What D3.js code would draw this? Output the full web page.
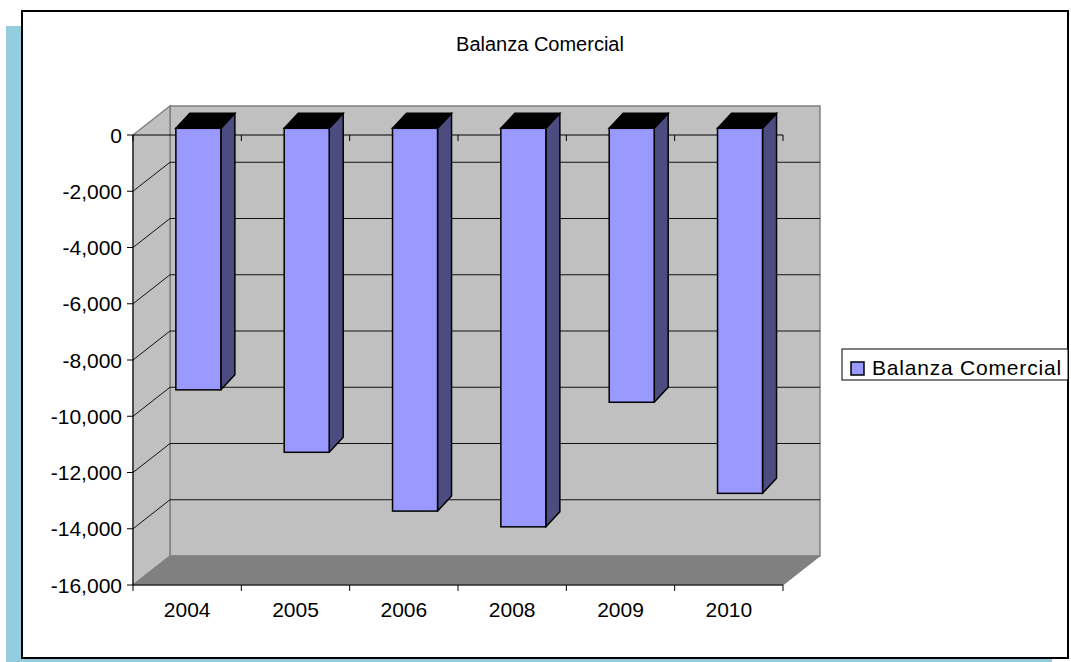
<!DOCTYPE html>
<html>
<head>
<meta charset="utf-8">
<script src="https://cdn.jsdelivr.net/npm/d3@7"></script>
<style>
  body { margin: 0; background: #fff; }
  svg text { font-family: "Liberation Sans", Arial, sans-serif; fill: #000; }
</style>
</head>
<body>
<div id="graph"></div>
<script>
const years = ['2004', '2005', '2006', '2008', '2009', '2010'];
const balanza = [-9300, -11520, -13610, -14170, -9740, -12980];
const valueTicks = [0, -2000, -4000, -6000, -8000, -10000, -12000, -14000, -16000];
const chartTitle = 'Balanza Comercial';
const seriesName = 'Balanza Comercial';

const width = 1071;
const height = 662;

// depth of the 3d box and of each bar
const wallDx = 37, wallDy = -29;
const barDx = 14, barDy = -15;

const svg = d3.select('#graph')
    .append('svg')
    .attr('width', width)
    .attr('height', height)

// shadow + frame
svg.append('rect')
    .attr('x', 6).attr('y', 26)
    .attr('width', 1046).attr('height', 660)
    .attr('fill', '#93cddd')
svg.append('rect')
    .attr('x', 22).attr('y', 11)
    .attr('width', 1046).attr('height', 647)
    .attr('fill', '#fff')
    .attr('stroke', '#000')
    .attr('stroke-width', 2)

const x = d3.scaleBand()
    .domain(years)
    .range([133, 783])

const y = d3.scaleLinear()
    .domain([-16000, 0])
    .range([585, 135])

const x0 = x.range()[0], x1 = x.range()[1];
const yTop = y(0), yBot = y(-16000);

const pts = arr => arr.map(p => p.join(',')).join(' ');
const fmt = v => d3.format(',')(v).replace('\u2212', '-');

// back wall
svg.append('polygon')
    .attr('points', pts([[x0 + wallDx, yTop + wallDy], [x1 + wallDx, yTop + wallDy], [x1 + wallDx, yBot + wallDy], [x0 + wallDx, yBot + wallDy]]))
    .attr('fill', '#c0c0c0')
    .attr('stroke', '#808080')
    .attr('stroke-width', 1.5)

// left wall
svg.append('polygon')
    .attr('points', pts([[x0, yTop], [x0 + wallDx, yTop + wallDy], [x0 + wallDx, yBot + wallDy], [x0, yBot]]))
    .attr('fill', '#c0c0c0')
    .attr('stroke', '#808080')
    .attr('stroke-width', 1.5)

// floor
svg.append('polygon')
    .attr('points', pts([[x0, yBot], [x1, yBot], [x1 + wallDx, yBot + wallDy], [x0 + wallDx, yBot + wallDy]]))
    .attr('fill', '#808080')
    .attr('stroke', '#808080')
    .attr('stroke-width', 1)

// gridlines
const inner = valueTicks.filter(v => v !== 0 && v !== -16000);
svg.append('g').selectAll('line')
    .data(inner)
    .join('line')
    .attr('x1', x0 + wallDx).attr('x2', x1 + wallDx)
    .attr('y1', d => y(d) + wallDy).attr('y2', d => y(d) + wallDy)
    .attr('stroke', '#111')
svg.append('g').selectAll('line')
    .data(inner)
    .join('line')
    .attr('x1', x0).attr('x2', x0 + wallDx)
    .attr('y1', d => y(d)).attr('y2', d => y(d) + wallDy)
    .attr('stroke', '#111')

// value axis
svg.append('line')
    .attr('x1', x0).attr('x2', x0)
    .attr('y1', yTop).attr('y2', yBot)
    .attr('stroke', '#000')
svg.append('g').selectAll('line')
    .data(valueTicks)
    .join('line')
    .attr('x1', x0 - 6).attr('x2', x0)
    .attr('y1', d => y(d)).attr('y2', d => y(d))
    .attr('stroke', '#000')
svg.append('g').selectAll('text')
    .data(valueTicks)
    .join('text')
    .attr('x', x0 - 11)
    .attr('y', d => y(d))
    .attr('dy', '0.36em')
    .attr('text-anchor', 'end')
    .style('font-size', '21px')
    .text(d => fmt(d))

// category axis at 0
const bounds = years.map(d => x(d)).concat([x1]);
svg.append('line')
    .attr('x1', x0).attr('x2', x1)
    .attr('y1', yTop).attr('y2', yTop)
    .attr('stroke', '#000')
svg.append('g').selectAll('line')
    .data(bounds)
    .join('line')
    .attr('x1', d => d).attr('x2', d => d)
    .attr('y1', yTop).attr('y2', yTop + 6)
    .attr('stroke', '#000')

// bars
const data = years.map((d, i) => ({ year: d, value: balanza[i] }));
const bar = svg.append('g').selectAll('g')
    .data(data)
    .join('g')

const fx = d => x(d.year) + x.bandwidth() / 2 - 11.3;
const fw = 45;
const ftop = () => y(0) - 6.7;
const fbot = d => y(d.value) - 6.7;

bar.append('polygon')
    .attr('points', d => pts([[fx(d) + fw, ftop()], [fx(d) + fw + barDx, ftop() + barDy], [fx(d) + fw + barDx, fbot(d) + barDy], [fx(d) + fw, fbot(d)]]))
    .attr('fill', '#4c4c80')
    .attr('stroke', '#000')
    .attr('stroke-width', 1.5)
    .attr('stroke-linejoin', 'round')
bar.append('polygon')
    .attr('points', d => pts([[fx(d), ftop()], [fx(d) + barDx, ftop() + barDy], [fx(d) + fw + barDx, ftop() + barDy], [fx(d) + fw, ftop()]]))
    .attr('fill', '#000')
    .attr('stroke', '#000')
    .attr('stroke-width', 1.5)
bar.append('rect')
    .attr('x', d => fx(d))
    .attr('y', ftop)
    .attr('width', fw)
    .attr('height', d => fbot(d) - ftop())
    .attr('fill', '#9999ff')
    .attr('stroke', '#000')
    .attr('stroke-width', 1.5)

// bottom axis
svg.append('line')
    .attr('x1', x0).attr('x2', x1)
    .attr('y1', yBot).attr('y2', yBot)
    .attr('stroke', '#000')
svg.append('g').selectAll('line')
    .data(bounds)
    .join('line')
    .attr('x1', d => d).attr('x2', d => d)
    .attr('y1', yBot).attr('y2', yBot + 6)
    .attr('stroke', '#000')
svg.append('g').selectAll('text')
    .data(years)
    .join('text')
    .attr('x', d => x(d) + x.bandwidth() / 2)
    .attr('y', 617)
    .attr('text-anchor', 'middle')
    .style('font-size', '21px')
    .text(d => d)

// title
svg.append('text')
    .attr('x', 540)
    .attr('y', 51)
    .attr('text-anchor', 'middle')
    .style('font-size', '20px')
    .text(chartTitle)

// legend
const legend = svg.append('g').attr('id', 'legend')
legend.append('rect')
    .attr('x', 842).attr('y', 349)
    .attr('width', 226).attr('height', 31)
    .attr('fill', '#fff')
    .attr('stroke', '#000')
    .attr('stroke-width', 1)
legend.append('rect')
    .attr('x', 851).attr('y', 362)
    .attr('width', 13).attr('height', 13)
    .attr('fill', '#9999ff')
    .attr('stroke', '#000')
    .attr('stroke-width', 1.5)
legend.append('text')
    .attr('x', 872)
    .attr('y', 375)
    .style('font-size', '21px')
    .style('letter-spacing', '0.8px')
    .text(seriesName)
</script>
</body>
</html>
